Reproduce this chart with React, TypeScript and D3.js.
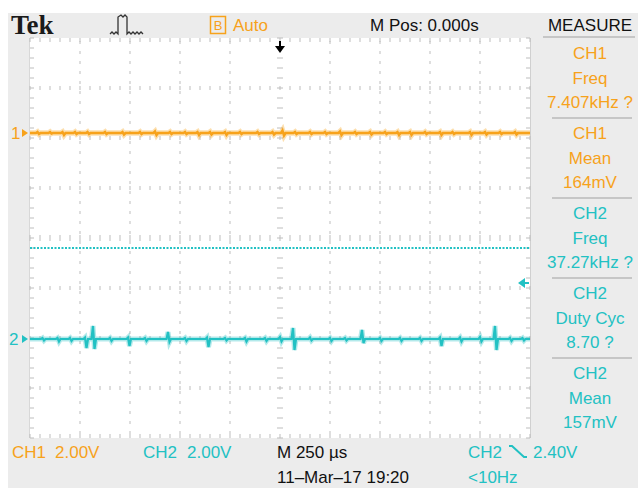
import React from "react";
import * as d3 from "d3";

// ---- data (divisions / readings) ----
const xDivisions = [0, 1, 2, 3, 4, 5, 6, 7, 8, 9, 10];
const yDivisions = [-4, -3, -2, -1, 0, 1, 2, 3, 4];
const ch1Offset = 2.1; // divisions above centre
const ch2Offset = -2.02;
const refLevel = -0.2; // dotted cyan line
const trigLevel = -0.9; // trigger arrow
// CH1 glitches: [time div, up dev div, down dev div]
const ch1Glitches: [number, number, number][] = [
  [0.15, 0.02, -0.02], [0.4, 0.02, -0.01], [0.65, 0.02, -0.04], [0.9, 0.02, -0.02], [1.15, 0.02, -0.02],
  [1.5, 0.02, -0.02], [1.85, 0.02, -0.03], [2.2, 0.02, -0.02], [2.5, 0.03, -0.04], [2.8, 0.02, -0.02],
  [3.1, 0.02, -0.02], [3.35, 0.02, -0.04], [3.6, 0.02, -0.03], [3.9, 0.02, -0.04], [4.2, 0.02, -0.02],
  [4.55, 0.02, -0.02], [4.85, 0.02, -0.03], [5.05, 0.05, -0.05], [5.3, 0.02, -0.02], [5.6, 0.02, -0.02],
  [5.9, 0.02, -0.02], [6.2, 0.03, -0.04], [6.5, 0.02, -0.02], [6.8, 0.02, -0.03], [7.1, 0.02, -0.02],
  [7.35, 0.02, -0.04], [7.6, 0.02, -0.04], [7.9, 0.02, -0.02], [8.2, 0.02, -0.04], [8.45, 0.02, -0.02],
  [8.8, 0.02, -0.04], [9.1, 0.02, -0.03], [9.4, 0.02, -0.02], [9.7, 0.02, -0.03],
];
// CH2 glitches: [time div, up dev div, down dev div]
const ch2Glitches: [number, number, number][] = [
  [0.25, 0.02, -0.03], [0.55, 0.02, -0.05], [0.8, 0.02, -0.04], [1.1, 0.03, -0.18], [1.26, 0.26, -0.2],
  [1.6, 0.02, -0.04], [1.96, 0.03, -0.14], [2.3, 0.02, -0.04], [2.76, 0.14, -0.06], [3.1, 0.02, -0.04],
  [3.54, 0.03, -0.16], [3.9, 0.02, -0.03], [4.3, 0.02, -0.05], [4.7, 0.02, -0.04], [5.0, 0.04, -0.05],
  [5.26, 0.22, -0.22], [5.6, 0.03, -0.03], [6.0, 0.02, -0.04], [6.3, 0.02, -0.03], [6.64, 0.18, -0.08],
  [7.0, 0.02, -0.04], [7.4, 0.02, -0.04], [7.8, 0.02, -0.04], [8.2, 0.03, -0.14], [8.6, 0.03, -0.05],
  [9.0, 0.04, -0.05], [9.3, 0.26, -0.22], [9.6, 0.02, -0.04], [9.85, 0.02, -0.03],
];
const measures = [
  { ch: "CH1", name: "Freq", value: "7.407kHz ?" },
  { ch: "CH1", name: "Mean", value: "164mV" },
  { ch: "CH2", name: "Freq", value: "37.27kHz ?" },
  { ch: "CH2", name: "Duty Cyc", value: "8.70 ?" },
  { ch: "CH2", name: "Mean", value: "157mV" },
];

const ORANGE = "#f7a21b";
const CYAN = "#22c1c3";
const GRID = "#bdbdbd";
const BG = "#ececec";
const FONT = "'Liberation Sans', Arial, sans-serif";

function tracePoints(glitches: [number, number, number][], offset: number): [number, number][] {
  const pts: [number, number][] = [[0, offset]];
  glitches.forEach(([t, up, down]) => {
    pts.push([t - 0.03, offset], [t, offset + up], [t + 0.03, offset + down], [t + 0.06, offset]);
  });
  pts.push([10, offset]);
  return pts;
}

export default function App() {
  const x = d3.scaleLinear().domain([0, 10]).range([30, 530]);
  const y = d3.scaleLinear().domain([-4, 4]).range([438, 38]);
  const minor = d3.range(0, 10.001, 0.2);
  const minorY = d3.range(-4, 4.001, 0.2);
  const line = d3.line<[number, number]>().x((d) => x(d[0])).y((d) => y(d[1]));

  const ch1 = tracePoints(ch1Glitches, ch1Offset);
  const ch2 = tracePoints(ch2Glitches, ch2Offset);

  const grid: React.ReactNode[] = [];
  xDivisions.slice(1, -1).forEach((d) => {
    if (d === 5) {
      minorY.forEach((m, i) =>
        grid.push(<line key={`cv${i}`} x1={x(d) - 3} x2={x(d) + 3} y1={y(m)} y2={y(m)} stroke={GRID} />)
      );
    } else {
      grid.push(
        <line key={`v${d}`} x1={x(d)} x2={x(d)} y1={y(4)} y2={y(-4)} stroke={GRID} strokeDasharray="3,7" strokeDashoffset={-3} />
      );
    }
  });
  yDivisions.slice(1, -1).forEach((d) => {
    minor.forEach((m, i) =>
      grid.push(
        <line key={`h${d}_${i}`} x1={x(m)} x2={x(m)} y1={y(d) - (d === 0 ? 3 : 2)} y2={y(d) + (d === 0 ? 3 : 2)} stroke={GRID} />
      )
    );
  });
  minor.forEach((m, i) => {
    grid.push(<line key={`te${i}`} x1={x(m)} x2={x(m)} y1={y(4)} y2={y(4) + 4} stroke={GRID} />);
    grid.push(<line key={`be${i}`} x1={x(m)} x2={x(m)} y1={y(-4)} y2={y(-4) - 4} stroke={GRID} />);
  });
  minorY.forEach((m, i) => {
    grid.push(<line key={`le${i}`} x1={x(0)} x2={x(0) + 4} y1={y(m)} y2={y(m)} stroke={GRID} />);
    grid.push(<line key={`re${i}`} x1={x(10)} x2={x(10) - 4} y1={y(m)} y2={y(m)} stroke={GRID} />);
  });

  const secTop = 38;
  const secH = 80;

  return (
    <svg width={638} height={488} style={{ position: "absolute", left: 0, top: 0 }} fontFamily={FONT}>
      <rect x={0} y={0} width={638} height={488} fill="#fff" />
      <rect x={8} y={13} width={630} height={475} fill={BG} />
      <rect x={x(0)} y={y(4)} width={x(10) - x(0)} height={y(-4) - y(4)} fill="#fff" />
      <line x1={x(10) + 0.5} x2={x(10) + 0.5} y1={y(4)} y2={y(-4)} stroke="#d0d0d0" />
      <line x1={x(0) - 0.5} x2={x(0) - 0.5} y1={y(4)} y2={y(-4)} stroke="#d8d8d8" />
      {grid}

      <line x1={x(0)} x2={x(10)} y1={y(refLevel)} y2={y(refLevel)} stroke={CYAN} strokeWidth={2} strokeDasharray="2,1.5" />

      <path d={line(ch1) || ""} fill="none" stroke={ORANGE} strokeOpacity={0.35} strokeWidth={5.5} />
      <path d={line(ch1) || ""} fill="none" stroke={ORANGE} strokeWidth={2.5} />
      <path d={line(ch2) || ""} fill="none" stroke={CYAN} strokeOpacity={0.35} strokeWidth={5} />
      <path d={line(ch2) || ""} fill="none" stroke={CYAN} strokeWidth={2.2} />

      <text x={11} y={y(ch1Offset) + 6} fontSize={17} fill={ORANGE}>1</text>
      <path d={`M${x(0) - 8},${y(ch1Offset) - 4} L${x(0) - 2},${y(ch1Offset)} L${x(0) - 8},${y(ch1Offset) + 4} Z`} fill={ORANGE} />
      <text x={9} y={y(ch2Offset) + 6} fontSize={17} fill={CYAN}>2</text>
      <path d={`M${x(0) - 8},${y(ch2Offset) - 4} L${x(0) - 2},${y(ch2Offset)} L${x(0) - 8},${y(ch2Offset) + 4} Z`} fill={CYAN} />

      <path d={`M${x(10) - 12},${y(trigLevel)} L${x(10) - 5},${y(trigLevel) - 5} L${x(10) - 5},${y(trigLevel) + 5} Z`} fill={CYAN} />
      <line x1={x(10) - 6} x2={x(10) - 1} y1={y(trigLevel)} y2={y(trigLevel)} stroke={CYAN} strokeWidth={2} />

      <line x1={x(5)} x2={x(5)} y1={41} y2={51} stroke="#000" strokeWidth={2} />
      <path d={`M${x(5) - 5},${46} L${x(5) + 5},${46} L${x(5)},${53} Z`} fill="#000" />

      <text x={11} y={34} fontSize={27} fontWeight="bold" fontFamily="'Liberation Serif', 'DejaVu Serif', serif" fill="#1a1a1a">Tek</text>
      <path
        d="M110,34 L112,32 L114,34 L116,32 L118,34 L118,17 L121,15 L123,17 L125,15 L127,17 L127,34 L129,32 L131,34 L133,32 L135,34 L137,32 L139,34 L141,32 L143,34"
        fill="none" stroke="#333" strokeWidth={1.3}
      />
      <rect x={210.5} y={16.5} width={15} height={17} fill="none" stroke={ORANGE} strokeWidth={1.5} />
      <text x={218} y={30} fontSize={13} fill={ORANGE} textAnchor="middle">B</text>
      <text x={233} y={31} fontSize={17} fill={ORANGE}>Auto</text>
      <text x={370} y={31} fontSize={17} fill="#111">M Pos: 0.000s</text>
      <text x={590} y={31} fontSize={17} fill="#111" textAnchor="middle">MEASURE</text>
      <line x1={543} x2={635} y1={37} y2={37} stroke="#c6c6c6" strokeWidth={2} />

      {measures.map((m, i) => {
        const top = secTop + i * secH;
        const c = m.ch === "CH1" ? ORANGE : CYAN;
        return (
          <g key={i} fill={c} fontSize={17} textAnchor="middle">
            <text x={590} y={top + 21}>{m.ch}</text>
            <text x={590} y={top + 46}>{m.name}</text>
            <text x={590} y={top + 70}>{m.value}</text>
            {i < measures.length - 1 && (
              <line x1={552} x2={632} y1={top + secH} y2={top + secH} stroke="#c6c6c6" strokeWidth={2} />
            )}
          </g>
        );
      })}

      <text x={12} y={458} fontSize={17} fill={ORANGE}>CH1</text>
      <text x={55} y={458} fontSize={17} fill={ORANGE}>2.00V</text>
      <text x={143} y={458} fontSize={17} fill={CYAN}>CH2</text>
      <text x={187} y={458} fontSize={17} fill={CYAN}>2.00V</text>
      <text x={277} y={458} fontSize={17} fill="#111">M 250 µs</text>
      <text x={277} y={483} fontSize={17} fill="#111">11‒Mar‒17 19:20</text>
      <text x={468} y={458} fontSize={17} fill={CYAN}>CH2</text>
      <path d="M509,446 L512,446 L524,457 L527,457" fill="none" stroke={CYAN} strokeWidth={2} />
      <text x={533} y={458} fontSize={17} fill={CYAN}>2.40V</text>
      <text x={468} y={483} fontSize={17} fill={CYAN}>&lt;10Hz</text>
    </svg>
  );
}
